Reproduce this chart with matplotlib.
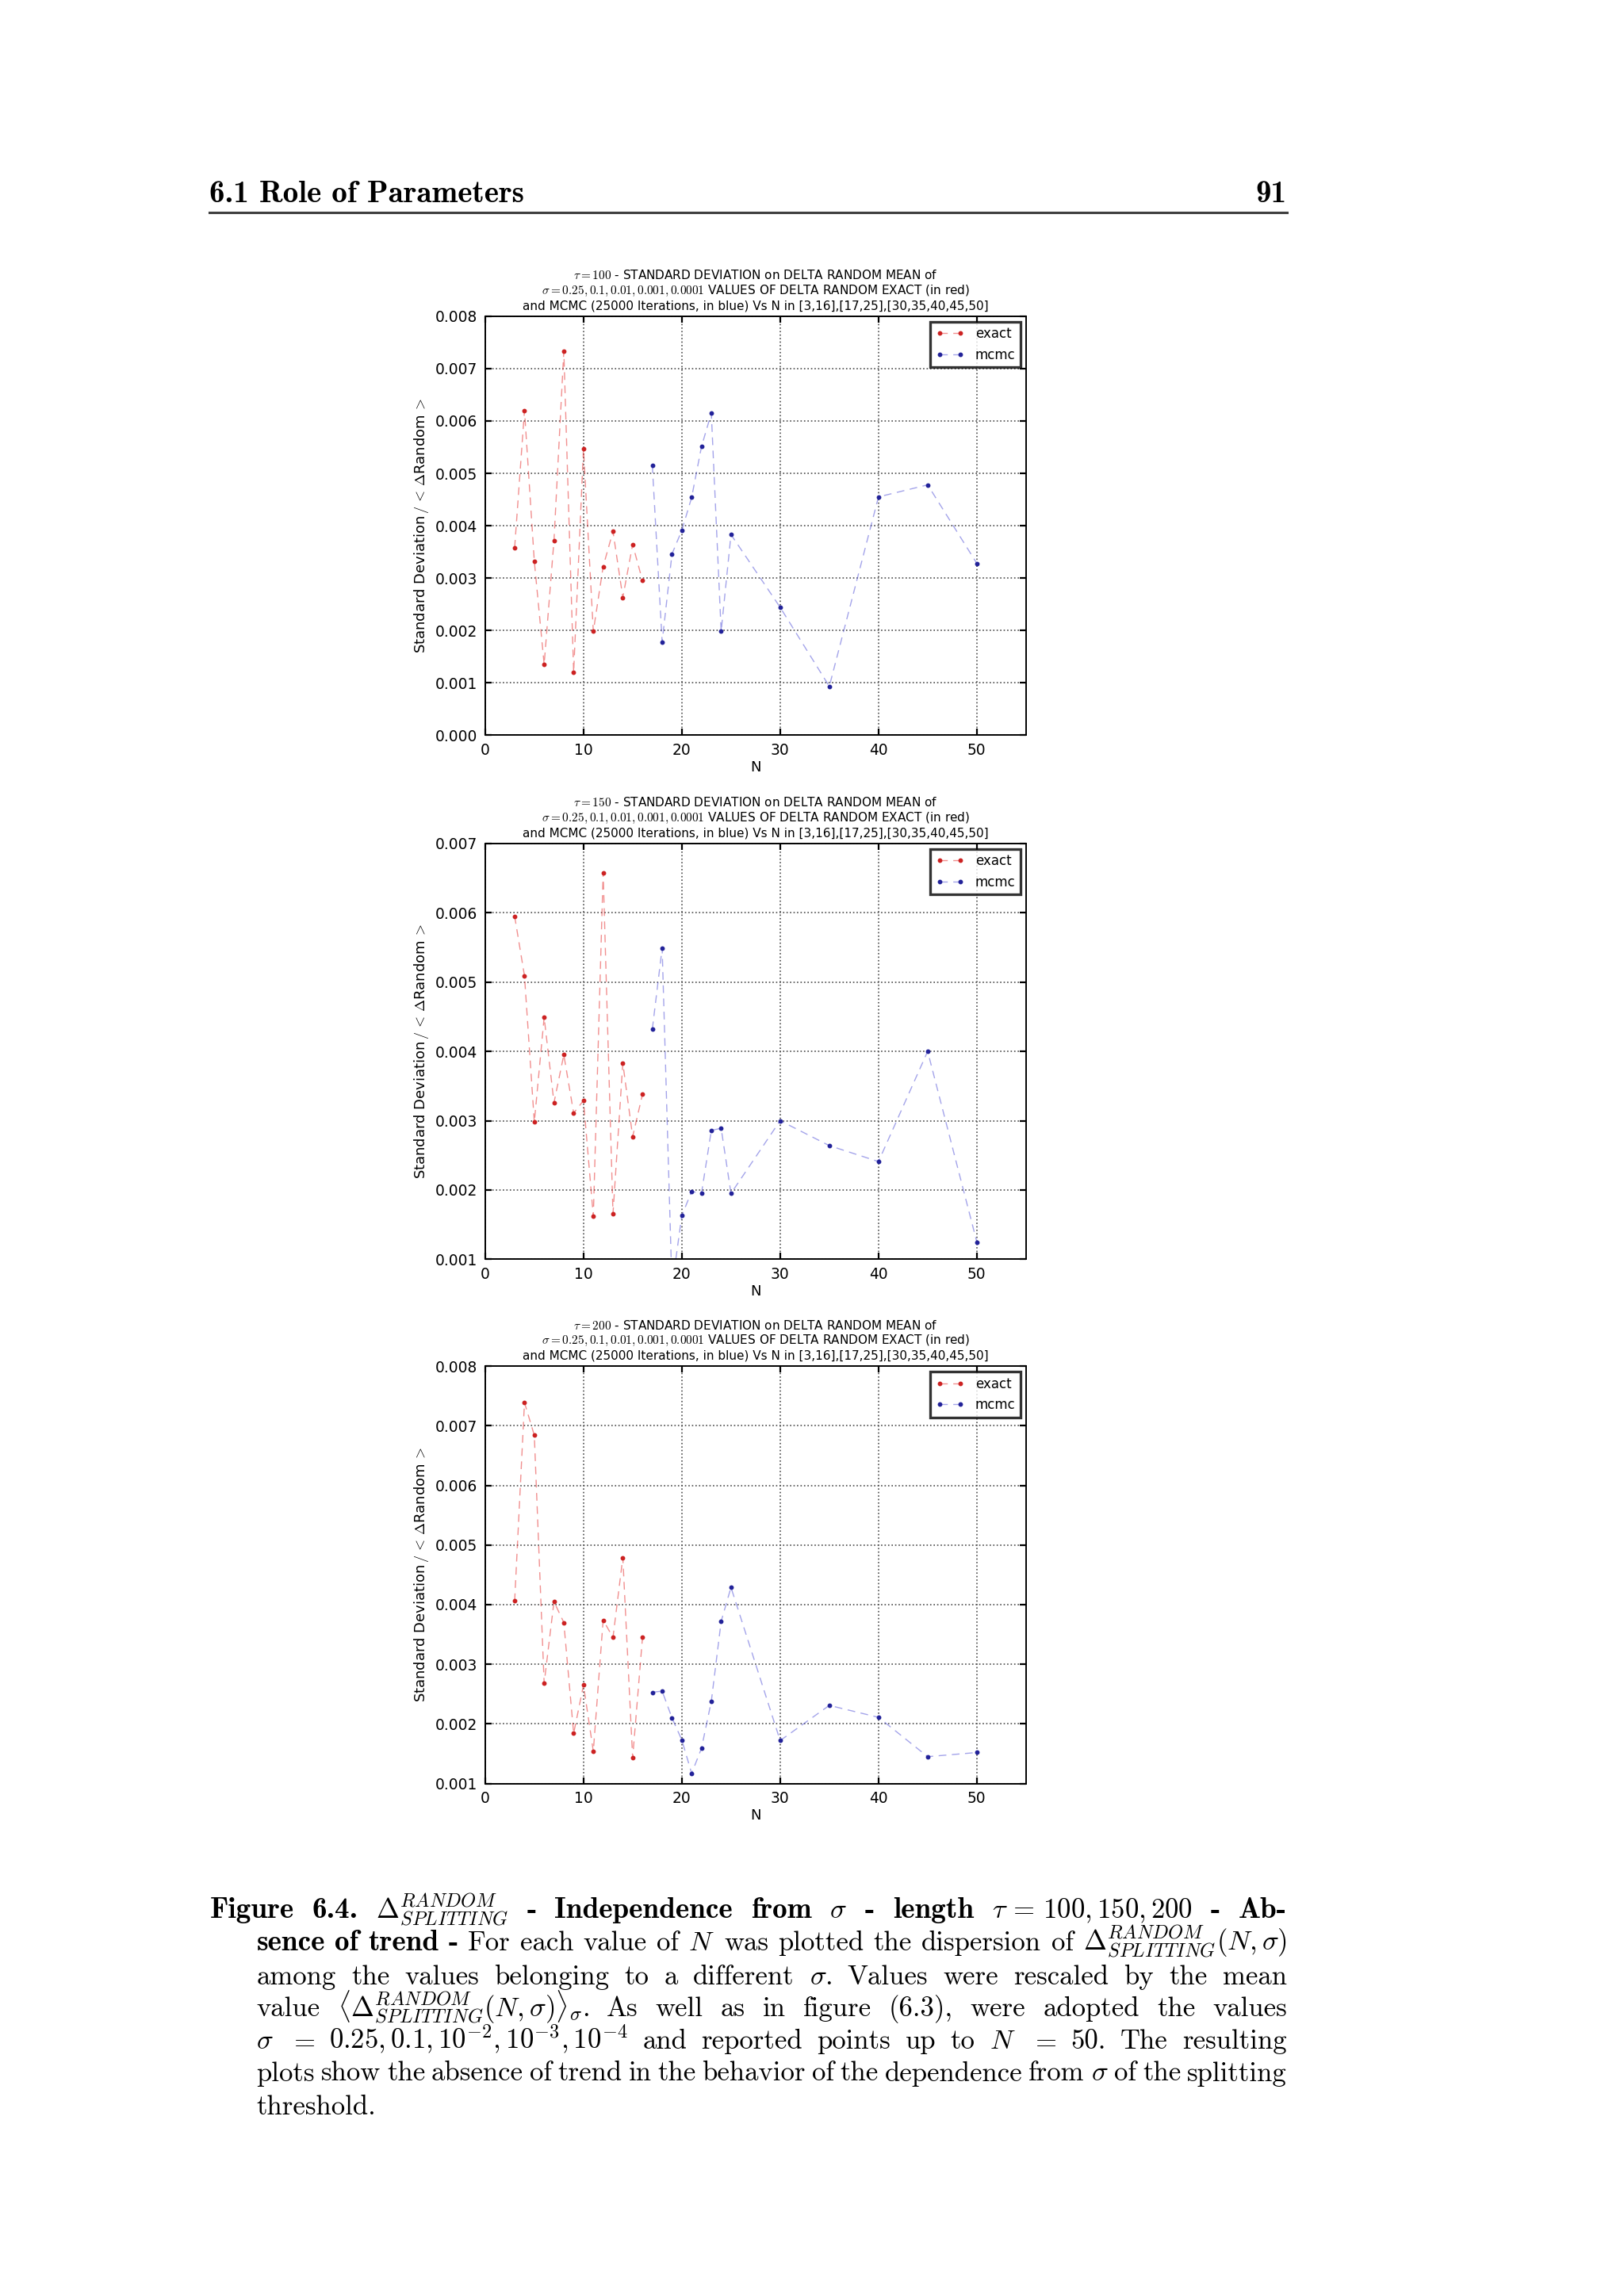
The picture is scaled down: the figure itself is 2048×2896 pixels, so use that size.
import matplotlib
matplotlib.use('Agg')
import matplotlib.pyplot as plt

plt.rcParams['mathtext.fontset'] = 'cm'
plt.rcParams['font.family'] = ['DejaVu Sans']

# N values
n_exact = [3, 4, 5, 6, 7, 8, 9, 10, 11, 12, 13, 14, 15, 16]
n_mcmc = [17, 18, 19, 20, 21, 22, 23, 24, 25, 30, 35, 40, 45, 50]

# tau = 100
exact_100 = [0.00358, 0.0062, 0.00332, 0.00135, 0.00372, 0.00733, 0.0012,
             0.00547, 0.00198, 0.00322, 0.00389, 0.00263, 0.00364, 0.00295]
mcmc_100 = [0.00515, 0.00178, 0.00346, 0.00391, 0.00454, 0.00551, 0.00615,
            0.00198, 0.00383, 0.00244, 0.00093, 0.00455, 0.00478, 0.00328]

# tau = 150
exact_150 = [0.00595, 0.00509, 0.00298, 0.00449, 0.00326, 0.00395, 0.00311,
             0.00329, 0.00162, 0.00658, 0.00166, 0.00383, 0.00277, 0.00338]
mcmc_150 = [0.00432, 0.00549, 0.0006, 0.00163, 0.00198, 0.00195, 0.00286,
            0.00289, 0.00195, 0.0030, 0.00264, 0.00241, 0.0040, 0.00125]

# tau = 200
exact_200 = [0.00406, 0.00739, 0.00684, 0.00268, 0.00405, 0.0037, 0.00184,
             0.00265, 0.00154, 0.00374, 0.00345, 0.00479, 0.00143, 0.00345]
mcmc_200 = [0.00253, 0.00255, 0.0021, 0.00173, 0.00117, 0.00159, 0.00238,
            0.00372, 0.00429, 0.00172, 0.00231, 0.00211, 0.00145, 0.00152]

taus = [100, 150, 200]
exacts = [exact_100, exact_150, exact_200]
mcmcs = [mcmc_100, mcmc_150, mcmc_200]
ylims = [(0.0, 0.008), (0.001, 0.007), (0.001, 0.008)]

W, H = 1108.0, 1568.0   # layout measured on the reduced page
fig = plt.figure(figsize=(10.24, 14.48), dpi=200)
fig.patch.set_facecolor('white')

# page header
fig.text(143 / W, 1 - 138 / H, '6.1 Role of Parameters', family='cmb10', fontsize=14.1)
fig.text(878 / W, 1 - 138 / H, '91', family='cmb10', fontsize=14.1, ha='right')
fig.add_artist(plt.Line2D([143 / W, 878 / W], [1 - 145 / H, 1 - 145 / H],
                          color='0.25', linewidth=1.1))

tops = [216, 576, 933]
bottoms = [502, 860, 1218]
for tau, ex, mc, yl, top, bot in zip(taus, exacts, mcmcs, ylims, tops, bottoms):
    ax = fig.add_axes([331 / W, 1 - bot / H, (700 - 331) / W, (bot - top) / H])
    ax.plot(n_exact, ex, '.--', color=(0.9, 0.2, 0.2, 0.55), mfc='#cc2222', mec='#cc2222',
            markersize=2.2, linewidth=0.5, dashes=(7, 5), label='exact')
    ax.plot(n_mcmc, mc, '.--', color=(0.35, 0.35, 0.85, 0.55), mfc='#222299', mec='#222299',
            markersize=2.2, linewidth=0.5, dashes=(7, 5), label='mcmc')
    ax.set_xlim(0, 55)
    ax.set_ylim(*yl)
    ax.set_xticks([0, 10, 20, 30, 40, 50])
    ax.grid(True, linestyle=':', color='0.3', linewidth=0.6)
    ax.tick_params(direction='in', top=True, right=True, labelsize=6.7, length=3)
    for s in ax.spines.values():
        s.set_linewidth(0.7)
    ax.set_xlabel('N', fontsize=6.5, labelpad=1)
    ax.set_ylabel(r'Standard Deviation$\,/\,<\,\Delta$Random$\,>$', fontsize=6.5, labelpad=2)
    ax.set_title(r'$\tau=%d$ - STANDARD DEVIATION on DELTA RANDOM MEAN of' % tau + '\n'
                 + r'$\sigma=0.25,0.1,0.01,0.001,0.0001$ VALUES OF DELTA RANDOM EXACT (in red)' + '\n'
                 + 'and MCMC (25000 Iterations, in blue) Vs N in [3,16],[17,25],[30,35,40,45,50]',
                 fontsize=5.5, pad=3, linespacing=1.2)
    leg = ax.legend(loc='upper right', fontsize=6, numpoints=2, fancybox=False,
                    handlelength=2.2, borderaxespad=0.4)
    leg.get_frame().set_edgecolor('black')
    leg.get_frame().set_linewidth(1.2)

# caption, justified word by word
D = r'$\Delta^{RANDOM}_{SPLITTING}$'
lines = [
    (143, 1310, [('Figure', 1), ('6.4.', 1), (D, 0), ('-', 1), ('Independence', 1), ('from', 1),
                 (r'$\sigma$', 0), ('-', 1), ('length', 1), (r'$\tau\,=\,100,150,200$', 0), ('-', 1), ('Ab-', 1)]),
    (175, 1332, [('sence', 1), ('of', 1), ('trend', 1), ('-', 1), ('For', 0), ('each', 0), ('value', 0),
                 ('of', 0), (r'$N$', 0), ('was', 0), ('plotted', 0), ('the', 0), ('dispersion', 0),
                 ('of', 0), (r'$\Delta^{RANDOM}_{SPLITTING}(N,\sigma)$', 0)]),
    (175, 1355, [(w, 0) for w in 'among the values belonging to a different'.split()]
     + [(r'$\sigma$.', 0)] + [(w, 0) for w in 'Values were rescaled by the mean'.split()]),
    (175, 1377, [('value', 0), (r'$\langle\Delta^{RANDOM}_{SPLITTING}(N,\sigma)\rangle_\sigma$.', 0)]
     + [(w, 0) for w in 'As well as in figure (6.3), were adopted the values'.split()]),
    (175, 1399, [(r'$\sigma$', 0), (r'$=$', 0), (r'$0.25,0.1,10^{-2},10^{-3},10^{-4}$', 0)]
     + [(w, 0) for w in 'and reported points up to'.split()]
     + [(r'$N$', 0), (r'$=$', 0), ('50.', 0), ('The', 0), ('resulting', 0)]),
    (175, 1421, [(w, 0) for w in 'plots show the absence of trend in the behavior of the dependence from'.split()]
     + [(r'$\sigma$', 0)] + [(w, 0) for w in 'of the splitting'.split()]),
]

renderer = fig.canvas.get_renderer()
fs = 12.5
for x0, yb, words in lines:
    texts = []
    for w, bold in words:
        texts.append(fig.text(0, 1 - yb / H, w, family='cmb10' if bold else 'cmr10',
                              fontsize=13.4 if bold else fs, va='baseline'))
    widths = [t.get_window_extent(renderer).width / fig.bbox.width for t in texts]
    gap = (878 / W - x0 / W - sum(widths)) / (len(texts) - 1)
    x = x0 / W
    for t, w in zip(texts, widths):
        t.set_x(x)
        x += w + gap

fig.text(175 / W, 1 - 1444 / H, 'threshold.', family='cmr10', fontsize=fs, va='baseline')

fig.savefig('out.png', dpi=200, facecolor='white')
